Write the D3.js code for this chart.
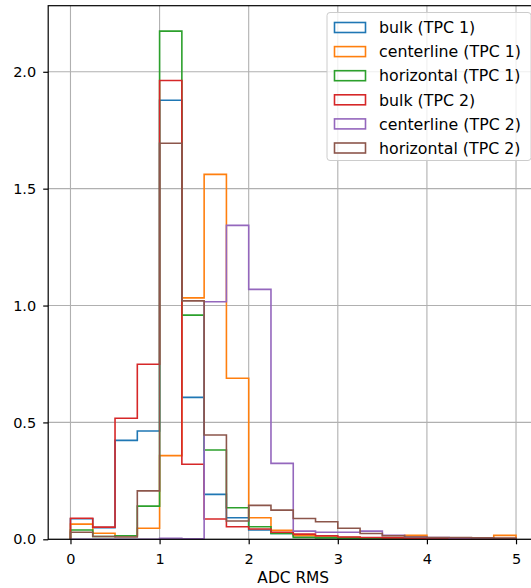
<!DOCTYPE html>
<html>
<head>
<meta charset="utf-8">
<script src="https://cdn.jsdelivr.net/npm/d3@7"></script>
<style>
  body { margin: 0; background: #fff; }
  svg { display: block; font-family: "DejaVu Sans", sans-serif; }
</style>
</head>
<body>
<div id="chart"></div>
<script>
// bin edges: 0 to 5 in steps of 0.25
const binEdges = d3.range(21).map(i => i * 0.25);

// density per bin
const bulkTPC1 = [0.088, 0.050, 0.423, 0.463, 1.878, 0.607, 0.192, 0.092, 0.040, 0.025,
                  0.015, 0.010, 0.008, 0.005, 0.004, 0.003, 0.002, 0.002, 0.001, 0.001];
const centerTPC1 = [0.065, 0.026, 0.015, 0.047, 0.358, 1.033, 1.561, 0.689, 0.092, 0.038,
                    0.015, 0.010, 0.008, 0.006, 0.008, 0.017, 0.005, 0.003, 0.003, 0.017];
const horizTPC1 = [0.040, 0.012, 0.015, 0.142, 2.174, 0.959, 0.382, 0.135, 0.054, 0.025,
                   0.008, 0.006, 0.005, 0.004, 0.003, 0.002, 0.002, 0.001, 0.001, 0.001];
const bulkTPC2 = [0.090, 0.052, 0.518, 0.749, 1.963, 0.321, 0.087, 0.054, 0.044, 0.030,
                  0.022, 0.015, 0.010, 0.008, 0.006, 0.004, 0.003, 0.002, 0.002, 0.001];
const centerTPC2 = [0.000, 0.000, 0.000, 0.000, 0.004, 0.002, 1.016, 1.343, 1.069, 0.325,
                    0.035, 0.030, 0.030, 0.035, 0.017, 0.010, 0.008, 0.006, 0.005, 0.003];
const horizTPC2 = [0.030, 0.012, 0.010, 0.207, 1.694, 1.020, 0.446, 0.078, 0.145, 0.125,
                   0.089, 0.075, 0.047, 0.025, 0.015, 0.010, 0.008, 0.008, 0.006, 0.005];

const seriesNames = ["bulk (TPC 1)", "centerline (TPC 1)", "horizontal (TPC 1)",
                     "bulk (TPC 2)", "centerline (TPC 2)", "horizontal (TPC 2)"];
const seriesValues = [bulkTPC1, centerTPC1, horizTPC1, bulkTPC2, centerTPC2, horizTPC2];
const colors = ["#1f77b4", "#ff7f0e", "#2ca02c", "#d62728", "#9467bd", "#8c564b"];

const xTicks = [0, 1, 2, 3, 4, 5];
const yTicks = [0, 0.5, 1.0, 1.5, 2.0];

const width = 531, height = 588;
const margin = {left: 48.2, top: 5.7, right: 538.3, bottom: 539.3};

const svg = d3.select("#chart").append("svg")
    .attr("width", width)
    .attr("height", height);

const yMax = d3.max(seriesValues, s => d3.max(s)) * 1.05;

const x = d3.scaleLinear().domain([-0.25, 5.25]).range([margin.left, margin.right]);
const y = d3.scaleLinear().domain([0, yMax]).range([margin.bottom, margin.top]);

// grid
const grid = svg.append("g");
grid.selectAll(".gx").data(xTicks).enter().append("line")
    .attr("x1", d => x(d)).attr("x2", d => x(d))
    .attr("y1", margin.top).attr("y2", margin.bottom)
    .style("stroke", "#b0b0b0").style("stroke-width", 1.1);
grid.selectAll(".gy").data(yTicks).enter().append("line")
    .attr("x1", margin.left).attr("x2", margin.right)
    .attr("y1", d => y(d)).attr("y2", d => y(d))
    .style("stroke", "#b0b0b0").style("stroke-width", 1.1);

// step outlines, drawn like histtype="step"
function stepPoints(values) {
    const pts = [[binEdges[0], 0]];
    values.forEach((v, i) => {
        pts.push([binEdges[i], v]);
        pts.push([binEdges[i + 1], v]);
    });
    pts.push([binEdges[binEdges.length - 1], 0]);
    return pts;
}

const line = d3.line().x(d => x(d[0])).y(d => y(d[1]));

svg.append("g").selectAll("path")
    .data(seriesValues)
    .enter()
    .append("path")
    .attr("d", d => line(stepPoints(d)))
    .style("fill", "none")
    .style("stroke", (d, i) => colors[i])
    .style("stroke-width", 1.6)
    .style("stroke-linejoin", "miter");

// axes
const xAxis = d3.axisBottom(x).tickValues(xTicks).tickFormat(d3.format("d"))
    .tickSize(5).tickPadding(9);
const yAxis = d3.axisLeft(y).tickValues(yTicks).tickFormat(d3.format(".1f"))
    .tickSize(5).tickPadding(7);

const gx = svg.append("g").attr("transform", `translate(0,${margin.bottom})`).call(xAxis);
const gy = svg.append("g").attr("transform", `translate(${margin.left},0)`).call(yAxis);
[gx, gy].forEach(g => {
    g.select(".domain").remove();
    g.selectAll(".tick line").style("stroke", "#000").style("stroke-width", 1.2);
    g.selectAll(".tick text")
        .style("font-size", "14.5px")
        .style("font-family", "DejaVu Sans")
        .style("fill", "#000");
});

// spines
svg.append("rect")
    .attr("x", margin.left).attr("y", margin.top)
    .attr("width", margin.right - margin.left)
    .attr("height", margin.bottom - margin.top)
    .style("fill", "none")
    .style("stroke", "#000")
    .style("stroke-width", 1.2);

// x label
svg.append("text")
    .attr("x", (margin.left + margin.right) / 2)
    .attr("y", 583)
    .attr("text-anchor", "middle")
    .style("font-size", "15.4px")
    .style("fill", "#000")
    .text("ADC RMS");

// legend
const legX = 327, legY = 12.5, legW = 204, rowH = 24.1;
const legend = svg.append("g");
legend.append("rect")
    .attr("x", legX).attr("y", legY)
    .attr("width", legW).attr("height", 148)
    .attr("rx", 3)
    .style("fill", "rgba(255,255,255,0.8)")
    .style("stroke", "#cccccc")
    .style("stroke-width", 1);

const rows = legend.selectAll(".row")
    .data(seriesNames)
    .enter()
    .append("g")
    .attr("transform", (d, i) => `translate(${legX}, ${legY + 15 + i * rowH})`);

rows.append("rect")
    .attr("x", 7.5).attr("y", -5)
    .attr("width", 31).attr("height", 10)
    .style("fill", "none")
    .style("stroke", (d, i) => colors[i])
    .style("stroke-width", 1.6);

rows.append("text")
    .attr("x", 52)
    .attr("y", 0)
    .attr("dy", "0.36em")
    .style("font-size", "15.8px")
    .style("fill", "#000")
    .text(d => d);
</script>
</body>
</html>
